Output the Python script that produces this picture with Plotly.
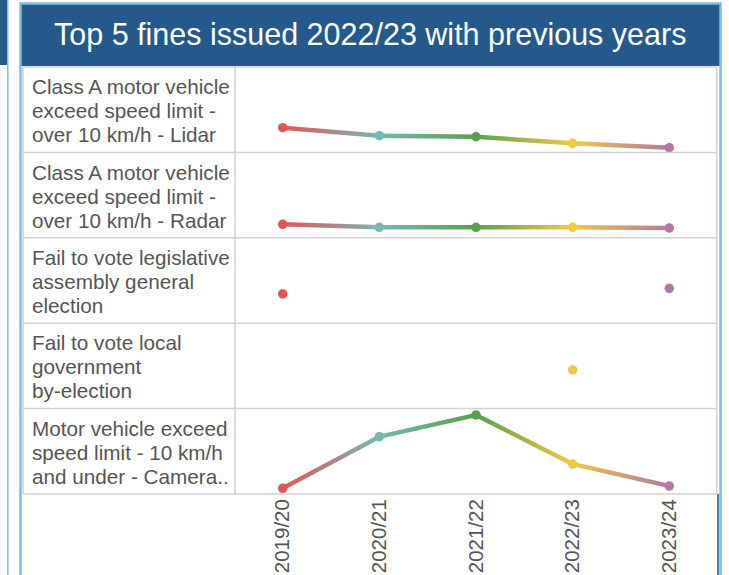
import math
import plotly.graph_objects as go

# fiscal years along the x axis
years = ["2019/20", "2020/21", "2021/22", "2022/23", "2023/24"]
year_colors = ["#e15759", "#76b7b2", "#59a14f", "#edc948", "#b07aa1"]

# fine types (one row each, wrapped as in the table) and fines issued per year
fine_types = [
    ["Class A motor vehicle", "exceed speed limit -", "over 10 km/h - Lidar"],
    ["Class A motor vehicle", "exceed speed limit -", "over 10 km/h - Radar"],
    ["Fail to vote legislative", "assembly general", "election"],
    ["Fail to vote local", "government", "by-election"],
    ["Motor vehicle exceed", "speed limit - 10 km/h", "and under - Camera.."],
]
lidar = [26000, 17600, 16500, 9600, 5000]
radar = [14200, 11100, 11000, 11000, 10300]
vote_state = [30800, None, None, None, 36800]
vote_local = [None, None, None, 40700, None]
camera = [6000, 60400, 83300, 31600, 8400]
rows = [lidar, radar, vote_state, vote_local, camera]

W, H = 729, 575
ROW_TOP, ROW_H = 67, 85.4
PLOT_L, PLOT_R = 234.4, 717.6
LABEL_L = 23
Y_MAX = 90000
LINE_W = 4.5
TEXT_LINE = 24

def px(x):
    return x / W

def py(y):
    return 1 - y / H

fig = go.Figure()
x_step = (PLOT_R - PLOT_L) / len(years)
ppu = ROW_H / Y_MAX

for r, values in enumerate(rows):
    yax = "y" if r == 0 else f"y{r + 1}"
    # gradient line segments between consecutive years
    for i in range(len(values) - 1):
        y0, y1 = values[i], values[i + 1]
        if y0 is None or y1 is None:
            continue
        dy = (y1 - y0) * ppu
        half = (LINE_W / 2) * math.hypot(x_step, dy) / x_step / ppu
        fig.add_trace(go.Scatter(
            x=[i, i + 1, i + 1, i, i],
            y=[y0 + half, y1 + half, y1 - half, y0 - half, y0 + half],
            mode="lines", line=dict(width=0), fill="toself",
            fillgradient=dict(type="horizontal",
                              colorscale=[[0, year_colors[i]], [1, year_colors[i + 1]]]),
            xaxis="x", yaxis=yax, hoverinfo="skip", showlegend=False,
        ))
    idx = [i for i, v in enumerate(values) if v is not None]
    fig.add_trace(go.Scatter(
        x=idx, y=[values[i] for i in idx], mode="markers",
        marker=dict(size=9.5, color=[year_colors[i] for i in idx]),
        xaxis="x", yaxis=yax, showlegend=False,
        text=[years[i] for i in idx],
    ))

layout = dict(
    width=W, height=H,
    margin=dict(l=0, r=0, t=0, b=0),
    paper_bgcolor="white", plot_bgcolor="rgba(0,0,0,0)",
    font=dict(family="Liberation Sans, Arial, sans-serif", color="#555555"),
    xaxis=dict(
        domain=[px(PLOT_L), px(PLOT_R)], range=[-0.5, len(years) - 0.5],
        tickvals=list(range(len(years))), ticktext=years, tickangle=-90,
        tickfont=dict(size=20.5, color="#555555"), anchor="y5",
        showgrid=False, zeroline=False, showline=False, ticks="",
    ),
)
for r in range(len(rows)):
    top = ROW_TOP + r * ROW_H
    name = "yaxis" if r == 0 else f"yaxis{r + 1}"
    layout[name] = dict(domain=[py(top + ROW_H), py(top)], range=[0, Y_MAX],
                        visible=False, fixedrange=True)
fig.update_layout(**layout)

shapes = []
grid = "#d0d0d0"
bottom = ROW_TOP + len(rows) * ROW_H
# row separators
for r in range(len(rows) + 1):
    y = ROW_TOP + r * ROW_H
    shapes.append(dict(type="line", xref="paper", yref="paper",
                       x0=px(LABEL_L), x1=px(716.7), y0=py(y), y1=py(y),
                       line=dict(color=grid, width=1.5)))
for x in [LABEL_L, 235, 716.7]:
    shapes.append(dict(type="line", xref="paper", yref="paper",
                       x0=px(x), x1=px(x), y0=py(ROW_TOP), y1=py(bottom),
                       line=dict(color=grid, width=1.5)))
# title bar and panel borders
shapes.append(dict(type="rect", xref="paper", yref="paper",
                   x0=px(21), x1=px(720), y0=py(66), y1=py(4),
                   fillcolor="#25598b", line=dict(width=0)))
shapes.append(dict(type="rect", xref="paper", yref="paper",
                   x0=px(20.5), x1=px(720.5), y0=py(590), y1=py(3.5),
                   line=dict(color="#7dbfd8", width=2.5)))
shapes.append(dict(type="line", xref="paper", yref="paper",
                   x0=px(718), x1=px(718), y0=py(bottom), y1=0,
                   line=dict(color="#3a7fb0", width=2)))
# neighbouring tile at the left edge
shapes.append(dict(type="rect", xref="paper", yref="paper",
                   x0=0, x1=px(7), y0=py(65), y1=1,
                   fillcolor="#25598b", line=dict(width=0)))
shapes.append(dict(type="line", xref="paper", yref="paper",
                   x0=px(7.8), x1=px(7.8), y0=0, y1=1,
                   line=dict(color="#7dbfd8", width=1.5)))

annotations = [dict(
    text="Top 5 fines issued 2022/23 with previous years",
    xref="paper", yref="paper", x=px(370), y=py(35),
    xanchor="center", yanchor="middle", showarrow=False,
    font=dict(size=30.5, color="white"),
)]
for r, lines in enumerate(fine_types):
    mid = ROW_TOP + r * ROW_H + ROW_H / 2 + 1
    for k, line in enumerate(lines):
        annotations.append(dict(
            text=line, xref="paper", yref="paper",
            x=px(30), y=py(mid + (k - 1) * TEXT_LINE),
            xanchor="left", yanchor="middle", align="left", showarrow=False,
            font=dict(size=20.7, color="#555555"),
        ))

fig.update_layout(shapes=shapes, annotations=annotations)
fig.write_html("out.html", config={"displayModeBar": False},
               post_script="document.body.style.margin = '0px';")
